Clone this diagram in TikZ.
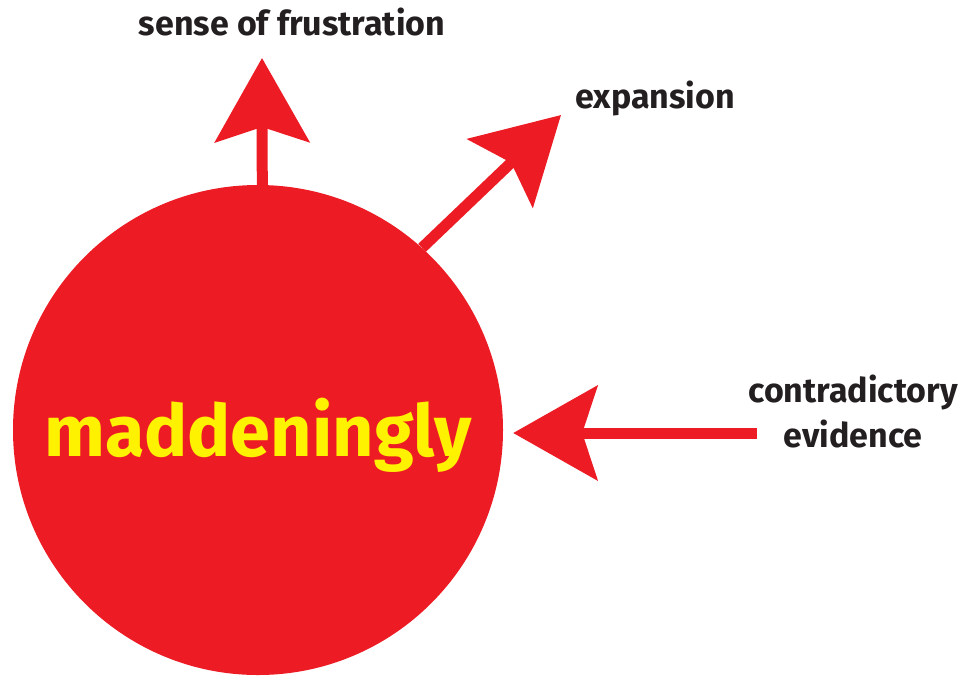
\documentclass[tikz,border=0pt]{standalone}
\usepackage{fontspec}
\setmainfont{Fira Sans}
\usetikzlibrary{arrows.meta}
\definecolor{madred}{HTML}{ED1C24}
\definecolor{madyellow}{HTML}{FFF200}
\definecolor{labelgray}{HTML}{231F20}

\begin{document}
\begin{tikzpicture}[x=1pt,y=-1pt,
  redarrow/.style={madred,line width=11pt,-{Stealth[length=84pt,width=94pt,inset=15pt]}},
  lbl/.style={text=labelgray,font=\fontsize{34}{45}\selectfont\bfseries,align=center,inner sep=0pt}]
\useasboundingbox (0,0) rectangle (969,681);

\node[circle,fill=madred,minimum size=490pt,inner sep=0pt] (C) at (258,430) {};
\node[text=madyellow,font=\fontsize{72}{80}\selectfont\bfseries,anchor=base] (M) at (258,456) {maddeningly};

\coordinate (T1) at (262,58);
\coordinate (T2) at (561,115);
\coordinate (S3) at (757,433);

\path[redarrow] (C.89) edge (T1);
\path[redarrow] (C.48) edge (T2);
\path[redarrow,shorten >=10pt] (S3) edge (C.east |- S3);

\node[lbl,anchor=base] (L1) at (292,35) {sense of frustration};
\node[lbl,anchor=base] (L2) at (655,108) {expansion};
\node[lbl] (L3) at (853,411) {contradictory\\evidence};
\end{tikzpicture}
\end{document}
